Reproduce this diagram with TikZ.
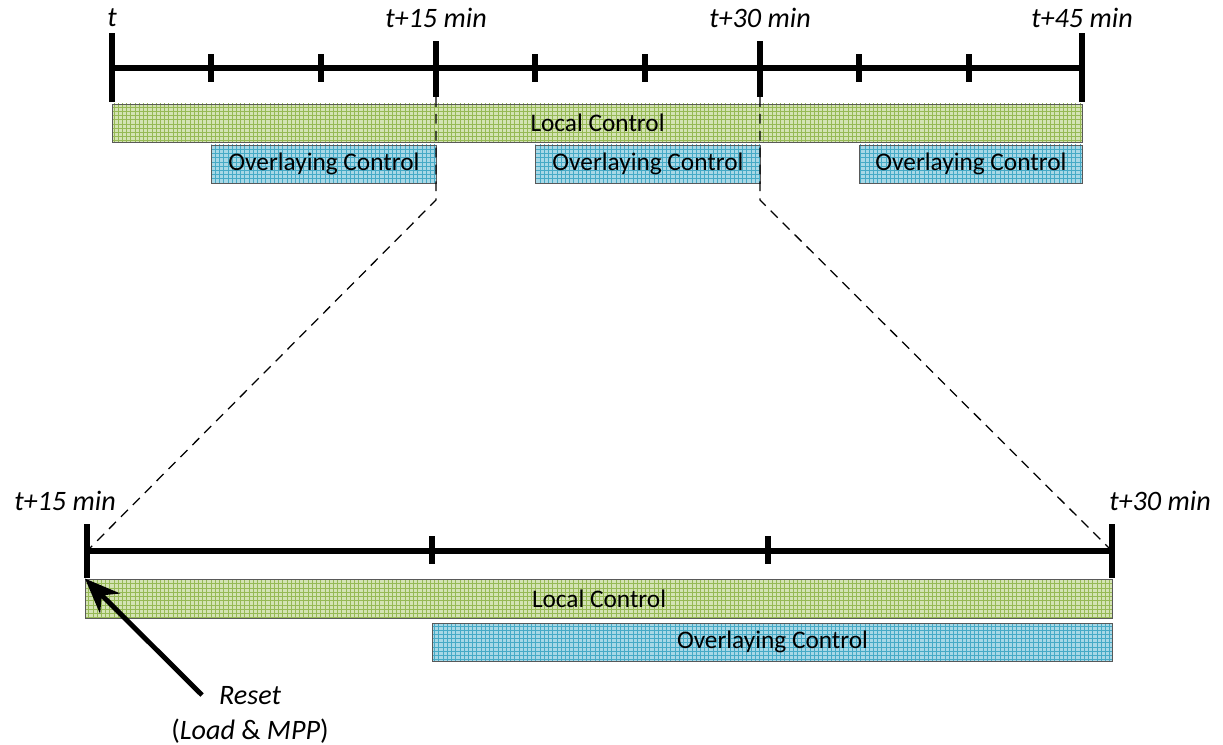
\documentclass[tikz,border=0pt]{standalone}
\usepackage{fontspec}
\setmainfont{Carlito}
\usepackage{tikz}
\usetikzlibrary{arrows.meta,patterns,positioning}
\definecolor{lcgreen}{RGB}{212,227,180}
\definecolor{lcgrid}{RGB}{150,185,85}
\definecolor{ocblue}{RGB}{168,216,230}
\definecolor{ocgrid}{RGB}{70,170,198}
\tikzstyle{zoomline} = [line width=0.9pt,dash pattern=on 7pt off 5pt]

\begin{document}
\begin{tikzpicture}[x=0.025cm, y=-0.025cm,
    axis/.style={line width=4pt},
    tick/.style={line width=4pt},
    localbar/.style={rectangle, draw=black!65, line width=0.6pt, preaction={fill=lcgreen}, pattern=grid, pattern color=lcgrid, inner sep=0pt, anchor=west, font=\fontsize{18}{20}\selectfont},
    overbar/.style={rectangle, draw=black!65, line width=0.6pt, preaction={fill=ocblue}, pattern=grid, pattern color=ocgrid, inner sep=0pt, anchor=west, font=\fontsize{18}{20}\selectfont},
    timelabel/.style={font=\fontsize{20}{24}\selectfont\itshape}
]
\useasboundingbox (0,0) rectangle (1223,744);

% Upper time axis (45 min)
\coordinate (a0) at (112,68);
\coordinate (a15) at (436,68);
\coordinate (a30) at (760,68);
\coordinate (a45) at (1082,68);
\draw[axis] (a0) -- (a45);
\draw[tick] (112,33) -- (112,102);
\draw[tick] (1082,33) -- (1082,102);
\draw[tick] (436,41) -- (436,97);
\draw[tick] (760,41) -- (760,97);
\foreach \x in {211,321,535,645,859,969}
    \draw[tick] (\x,54) -- (\x,82);

\node[timelabel] (lt0) at (112,18) {t};
\node[timelabel] (lt15) at (436,18) {t+15 min};
\node[timelabel] (lt30) at (760,18) {t+30 min};
\node[timelabel] (lt45) at (1082,18) {t+45 min};

\node[localbar, minimum width=24.25cm, minimum height=0.95cm] (alocal) at (112,123) {Local Control};
\node[overbar, minimum width=5.625cm, minimum height=0.95cm] (aover1) at (211,164) {Overlaying Control};
\node[overbar, minimum width=5.625cm, minimum height=0.95cm] (aover2) at (535,164) {Overlaying Control};
\node[overbar, minimum width=5.575cm, minimum height=0.95cm] (aover3) at (859,164) {Overlaying Control};

% Lower time axis (zoom on t+15 .. t+30)
\coordinate (b15) at (87,551);
\coordinate (b30) at (1112,551);
\draw[axis] (b15) -- (b30);
\draw[tick] (87,524) -- (87,578);
\draw[tick] (1112,524) -- (1112,578);
\draw[tick] (432,536) -- (432,564);
\draw[tick] (768,536) -- (768,564);

\node[timelabel] (lb15) at (65,501) {t+15 min};
\node[timelabel] (lb30) at (1160,501) {t+30 min};

\node[localbar, minimum width=25.675cm, minimum height=0.975cm] (blocal) at (85,598.5) {Local Control};
\node[overbar, minimum width=17cm, minimum height=0.95cm] (bover) at (432,642) {Overlaying Control};

% Zoom lines
\coordinate (z15) at (436,97);
\coordinate (k15) at (436,200);
\coordinate (z30) at (760,97);
\coordinate (k30) at (760,200);
\draw[zoomline] (z15) -- (k15) -- (b15);
\draw[zoomline] (z30) -- (k30) -- (b30);

% Reset marker
\node[font=\fontsize{20}{24}\selectfont\itshape] (reset) at (250,696) {Reset};
\node[font=\fontsize{20}{24}\selectfont] (resetwhy) at (250,731) {(\textit{Load} \& \textit{MPP})};
\coordinate (resettail) at (202,695);
\draw[line width=3.5pt, -{Stealth[length=25pt,width=20pt]}] (resettail) -- (blocal.north west);
\end{tikzpicture}
\end{document}
